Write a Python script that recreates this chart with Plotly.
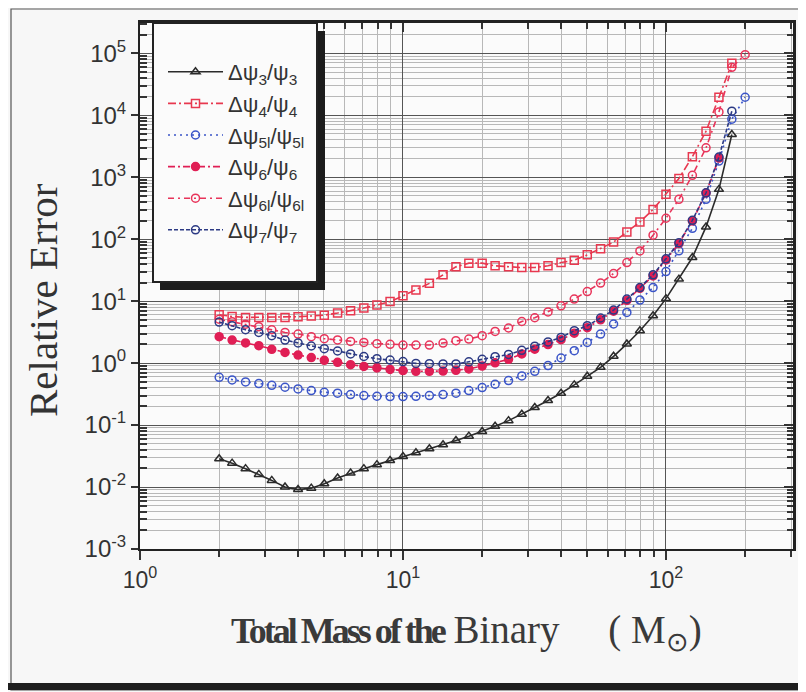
import plotly.graph_objects as go

# total mass of the binary (solar masses)
mass = [2.00, 2.24, 2.52, 2.83, 3.17, 3.56, 3.99, 4.48, 5.02, 5.64,
        6.32, 7.10, 7.96, 8.93, 10.0, 11.2, 12.6, 14.2, 15.9, 17.8,
        20.0, 22.4, 25.2, 28.3, 31.7, 35.6, 39.9, 44.8, 50.2, 56.4,
        63.2, 71.0, 79.6, 89.3, 100, 112, 126, 142, 159, 178, 200]

err_psi3 = [0.0286, 0.0243, 0.0198, 0.0160, 0.0128, 0.0100, 0.0091, 0.0096, 0.0113, 0.0140,
            0.0168, 0.0198, 0.0230, 0.0269, 0.0312, 0.0358, 0.0415, 0.0482, 0.0565, 0.0663,
            0.0788, 0.096, 0.118, 0.150, 0.192, 0.249, 0.327, 0.446, 0.614, 0.855,
            1.29, 2.04, 3.34, 5.82, 11.0, 22.7, 50.6, 158, 638, 4910]

err_psi4 = [6.04, 5.67, 5.47, 5.47, 5.47, 5.47, 5.61, 5.78, 5.95, 6.43,
            7.0, 7.74, 8.65, 9.86, 12.2, 15.1, 19.4, 26.6, 35.8, 41.1,
            41.1, 37.2, 35.8, 34.9, 34.9, 37.2, 42.0, 45.9, 55.9, 70.3,
            89.8, 131, 190, 302, 531, 953, 2150, 5540, 19500, 69000]

err_psi5l = [0.590, 0.536, 0.498, 0.468, 0.438, 0.408, 0.384, 0.361, 0.339, 0.327,
             0.311, 0.300, 0.292, 0.289, 0.289, 0.291, 0.300, 0.311, 0.327, 0.361,
             0.403, 0.456, 0.523, 0.622, 0.738, 0.912, 1.21, 1.59, 2.16, 2.95,
             4.28, 6.58, 10.4, 16.6, 30.1, 64.9, 150, 440, 1824, 8650, 19560]

err_psi6 = [2.67, 2.36, 2.12, 1.91, 1.67, 1.49, 1.35, 1.23, 1.11, 1.03,
            0.946, 0.885, 0.837, 0.792, 0.757, 0.738, 0.738, 0.745, 0.766, 0.807,
            0.895, 1.01, 1.15, 1.41, 1.68, 1.99, 2.39, 3.04, 3.73, 5.01,
            6.88, 10.3, 16.1, 25.6, 46.4, 85.5, 197, 557, 2040]

err_psi6l = [5.11, 4.66, 4.25, 3.87, 3.46, 3.13, 2.95, 2.67, 2.48, 2.37,
             2.24, 2.16, 2.06, 2.01, 1.96, 1.96, 1.96, 2.11, 2.30, 2.45,
             2.77, 3.25, 3.69, 4.7, 5.4, 6.7, 8.43, 10.8, 14.3, 19.6,
             27.9, 42.0, 64.8, 116, 218, 441, 1074, 2985, 11350, 59600, 95300]

err_psi7 = [4.60, 4.02, 3.46, 3.13, 2.77, 2.36, 2.12, 1.89, 1.71, 1.57,
            1.41, 1.28, 1.18, 1.12, 1.06, 0.99, 0.98, 0.97, 0.97, 1.05,
            1.15, 1.27, 1.38, 1.61, 1.88, 2.20, 2.60, 3.34, 4.02, 5.35,
            7.19, 10.8, 16.6, 26.6, 48.2, 88.1, 202, 562, 2115, 11650]

x_ticks = [1, 10, 100]
x_ticktext = ["10<sup>0</sup>", "10<sup>1</sup>", "10<sup>2</sup>"]
y_ticks = [1e-3, 1e-2, 1e-1, 1, 10, 100, 1e3, 1e4, 1e5]
y_ticktext = ["10<sup>-3</sup>", "10<sup>-2</sup>", "10<sup>-1</sup>", "10<sup>0</sup>",
              "10<sup>1</sup>", "10<sup>2</sup>", "10<sup>3</sup>", "10<sup>4</sup>", "10<sup>5</sup>"]

# series: name, data, colour, dash, marker symbol
series = [
    ("Δψ<sub>3</sub>/ψ<sub>3</sub>", err_psi3, "#2b2b2b", "solid", "triangle-up-open"),
    ("Δψ<sub>4</sub>/ψ<sub>4</sub>", err_psi4, "#e8384f", "8px,3px,2px,3px", "square-open"),
    ("Δψ<sub>5l</sub>/ψ<sub>5l</sub>", err_psi5l, "#3b55c8", "2px,4px", "circle-open"),
    ("Δψ<sub>6</sub>/ψ<sub>6</sub>", err_psi6, "#e01f55", "7px,3px,2px,3px", "circle"),
    ("Δψ<sub>6l</sub>/ψ<sub>6l</sub>", err_psi6l, "#e8345a", "6px,4px,2px,4px", "circle-open"),
    ("Δψ<sub>7</sub>/ψ<sub>7</sub>", err_psi7, "#2c3a84", "4px,2px", "circle-open"),
]

fig = go.Figure()
for name, vals, col, dash, sym in series:
    fig.add_trace(go.Scatter(
        x=mass[:len(vals)], y=vals, name=name, mode="lines+markers",
        line=dict(color=col, width=1.6, dash=dash),
        marker=dict(symbol=sym, size=8, color=col, line=dict(color=col, width=1.5)),
    ))

# empty trace so the mirrored top/right axes get drawn
fig.add_trace(go.Scatter(x=[], y=[], xaxis="x2", yaxis="y2", showlegend=False, hoverinfo="skip"))

# the page body has an 8px margin, so the figure is a bit smaller than the window
OFF = 8
W, H = 798, 684
L, R, T, B = 132, 13, 15, 143
PW, PH = W - L - R, H - T - B


# window pixel -> paper coords
def px(xw):
    return (xw - OFF - L) / PW


def py(yw):
    return (H - B - (yw - OFF)) / PH


XR = [0, 2.483]
YR = [-3, 5.49]
minor_x = [m * 10 ** e for e in range(0, 3) for m in range(2, 10)]
minor_y = [m * 10.0 ** e for e in range(-3, 6) for m in range(2, 10)]
font_sans = "Arial, Liberation Sans"
font_serif = "Liberation Serif, Times New Roman"

fig.update_layout(
    width=W, height=H,
    margin=dict(l=L, r=R, t=T, b=B),
    paper_bgcolor="#f7f7f7", plot_bgcolor="#fbfbfb",
    showlegend=True,
    legend=dict(x=px(163), y=py(51), xanchor="left", yanchor="top", itemwidth=55,
                bgcolor="rgba(0,0,0,0)", borderwidth=0,
                font=dict(family=font_sans, size=22, color="#333")),
    xaxis=dict(type="log", range=XR, tickmode="array", tickvals=x_ticks, ticktext=x_ticktext,
               tickfont=dict(family=font_sans, size=23, color="#333"),
               ticks="outside", ticklen=9, tickwidth=1.5, tickcolor="#333",
               showline=True, linecolor="#222", linewidth=2,
               showgrid=True, gridcolor="#555", gridwidth=1, zeroline=False,
               minor=dict(tickmode="array", tickvals=minor_x, ticks="outside", ticklen=6,
                          tickcolor="#333", showgrid=True, gridcolor="#b8b8b8", gridwidth=0.8)),
    yaxis=dict(type="log", range=YR, tickmode="array", tickvals=y_ticks, ticktext=y_ticktext,
               tickfont=dict(family=font_sans, size=24, color="#333"),
               ticks="outside", ticklen=7, tickwidth=1.5, tickcolor="#333",
               showline=True, linecolor="#222", linewidth=2,
               showgrid=True, gridcolor="#555", gridwidth=1, zeroline=False,
               minor=dict(tickmode="array", tickvals=minor_y, ticks="inside", ticklen=7,
                          tickcolor="#333", showgrid=True, gridcolor="#b8b8b8", gridwidth=0.8)),
    xaxis2=dict(type="log", range=XR, overlaying="x", side="top", anchor="y2",
                tickmode="array", tickvals=x_ticks, showticklabels=False,
                ticks="inside", ticklen=9, tickwidth=1.5, tickcolor="#333",
                showline=True, linecolor="#222", linewidth=3, showgrid=False, zeroline=False,
                minor=dict(tickmode="array", tickvals=minor_x, ticks="inside", ticklen=6,
                           tickcolor="#333", showgrid=False)),
    yaxis2=dict(type="log", range=YR, overlaying="y", side="right", anchor="x2",
                tickmode="array", tickvals=y_ticks, showticklabels=False,
                ticks="inside", ticklen=9, tickwidth=1.5, tickcolor="#333",
                showline=True, linecolor="#222", linewidth=3, showgrid=False, zeroline=False,
                minor=dict(tickmode="array", tickvals=minor_y, ticks="inside", ticklen=6,
                           tickcolor="#333", showgrid=False)),
)

shapes = [
    # scanned page frame
    dict(type="rect", xref="paper", yref="paper", x0=px(11), x1=px(803), y0=py(690), y1=py(9),
         line=dict(color="#555", width=1.2), fillcolor="rgba(0,0,0,0)", layer="below"),
    dict(type="rect", xref="paper", yref="paper", x0=px(8), x1=px(806), y0=py(690), y1=py(683),
         line=dict(width=0), fillcolor="#1e1e1e", layer="above"),
    # legend box with its shadow
    dict(type="rect", xref="paper", yref="paper", x0=px(160), x1=px(325), y0=py(290), y1=py(31),
         line=dict(width=0), fillcolor="#1c1c1c", layer="above"),
    dict(type="rect", xref="paper", yref="paper", x0=px(153), x1=px(317), y0=py(282), y1=py(23),
         line=dict(color="#222", width=2), fillcolor="#fbfbfb", layer="above"),
]
fig.update_layout(shapes=shapes)

fig.add_annotation(
    text="Relative Error", xref="paper", yref="paper", x=px(43), y=py(300),
    xanchor="center", yanchor="middle", textangle=-90, showarrow=False,
    font=dict(family=font_serif, size=41, color="#333"),
)
gap = "\u00a0" * 5
fig.add_annotation(
    text="<b><span style='font-size:36px;letter-spacing:-3px'>Total Mass of the</span></b>"
         " Binary" + gap + "( M<sub>⊙</sub>)",
    xref="paper", yref="paper", x=px(467), y=py(632), xanchor="center", yanchor="middle",
    showarrow=False,
    font=dict(family=font_serif, size=39, color="#3a3a3a"),
)

fig.write_html("out.html")
